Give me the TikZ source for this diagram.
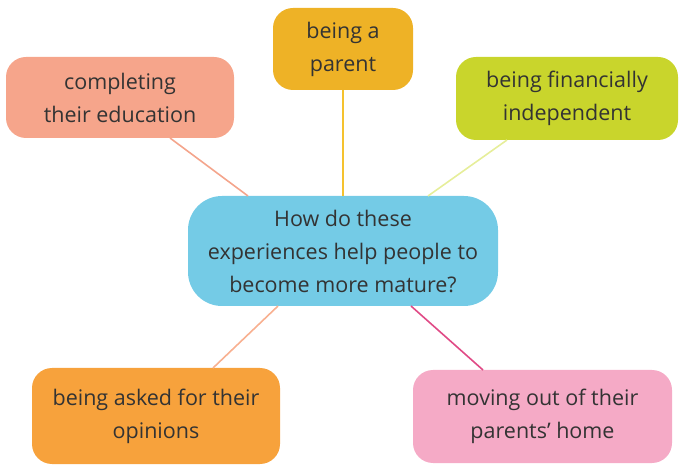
\documentclass[tikz,border=0pt]{standalone}
\usepackage{fontspec}
\setmainfont{Open Sans}
\definecolor{cblue}{HTML}{74CBE6}
\definecolor{cgold}{HTML}{EEB226}
\definecolor{csalmon}{HTML}{F6A58B}
\definecolor{clime}{HTML}{C9D52C}
\definecolor{corange}{HTML}{F7A23C}
\definecolor{cpink}{HTML}{F5AAC6}
\definecolor{ctext}{HTML}{333333}
\definecolor{lsalmon}{HTML}{F4A58C}
\definecolor{lgold}{HTML}{F5C22E}
\definecolor{llime}{HTML}{E6EE9A}
\definecolor{lorange}{HTML}{F8B090}
\definecolor{lpink}{HTML}{E04A86}
\begin{document}
\begin{tikzpicture}[x=1pt,y=-1pt,
  bubble/.style={rounded corners=20pt, inner sep=0pt, align=center,
    text=ctext, font=\fontsize{21.5}{33}\selectfont},
  link/.style={line width=1.6pt}]
\useasboundingbox (0,0) rectangle (681,465);
\node[bubble, fill=cblue, rounded corners=34pt, minimum width=310pt, minimum height=110pt] (c) at (343,251)
  {How do these\\experiences help people to\\become more mature?};
\node[bubble, fill=cgold, minimum width=140pt, minimum height=82pt] (p) at (343,49) {being a\\parent};
\node[bubble, fill=csalmon, minimum width=228pt, minimum height=81pt] (e) at (120,97.5) {completing\\their education};
\node[bubble, fill=clime, minimum width=222pt, minimum height=83pt] (f) at (567,98.5) {being financially\\independent};
\node[bubble, fill=corange, minimum width=248pt, minimum height=96pt] (o) at (156,416) {being asked for their\\opinions};
\node[bubble, fill=cpink, minimum width=259pt, minimum height=93pt] (m) at (542.5,416.5) {moving out of their\\parents' home};
\coordinate (e1) at (170,138); \coordinate (e2) at (248,196);
\coordinate (p1) at (343,90); \coordinate (p2) at (343,196);
\coordinate (f1) at (507,140); \coordinate (f2) at (428,196);
\coordinate (o1) at (278,306); \coordinate (o2) at (213,368);
\coordinate (m1) at (411,306); \coordinate (m2) at (483,370);
\draw[link, lsalmon] (e1) -- (e2);
\draw[link, lgold] (p1) -- (p2);
\draw[link, llime] (f1) -- (f2);
\draw[link, lorange] (o1) -- (o2);
\draw[link, lpink] (m1) -- (m2);
\end{tikzpicture}
\end{document}
